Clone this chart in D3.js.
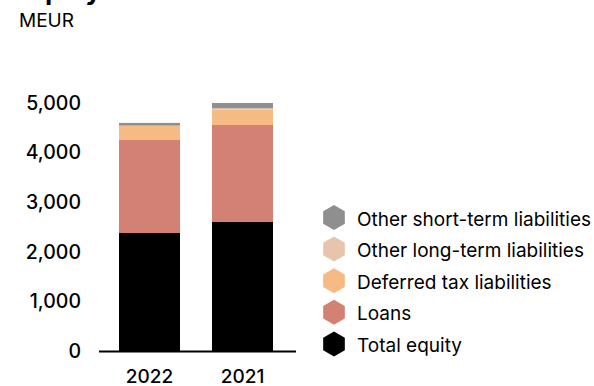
<!DOCTYPE html>
<html>
<head>
<meta charset="utf-8">
<script src="https://cdn.jsdelivr.net/npm/d3@7/dist/d3.min.js"></script>
<style>
  html, body { margin: 0; padding: 0; background: #fff; }
  svg { display: block; font-family: Inter, "Noto Sans", sans-serif; }
</style>
</head>
<body>
<svg id="chart" width="594" height="386"></svg>
<script>
// Equity and liabilities, MEUR
const years = ["2022", "2021"];
const seriesNames = ["Total equity", "Loans", "Deferred tax liabilities", "Other long-term liabilities", "Other short-term liabilities"];
const seriesColors = ["#000000", "#d38175", "#f5bb82", "#e6c5ac", "#8f8f8f"];
const totalEquity = [2379, 2601];
const loans = [1875, 1956];
const deferredTax = [282, 308];
const otherLongTerm = [8, 28];
const otherShortTerm = [55, 107];
const yTicks = [0, 1000, 2000, 3000, 4000, 5000];

const seriesValues = [totalEquity, loans, deferredTax, otherLongTerm, otherShortTerm];
const rows = years.map((yr, i) => {
  const r = { year: yr };
  seriesNames.forEach((n, k) => { r[n] = seriesValues[k][i]; });
  return r;
});

const svg = d3.select("#chart");
const fontFamily = "Inter, 'Noto Sans', sans-serif";

const x = d3.scaleBand().domain(years).range([99, 293]).paddingInner(0.344).paddingOuter(0.215);
const y = d3.scaleLinear().domain([0, 5000]).range([351, 103]);

// title (runs off the top edge) and unit
svg.append("text").attr("x", 20).attr("y", 0)
  .attr("font-size", 26).attr("font-weight", 700).attr("fill", "#000")
  .text("Equity and liabilities");
svg.append("text").attr("x", 19).attr("y", 27)
  .attr("font-size", 19).attr("fill", "#000").text("MEUR");

// stacked bars
const stack = d3.stack().keys(seriesNames)(rows);
svg.append("g").selectAll("g").data(stack).join("g")
  .attr("fill", (d, i) => seriesColors[i])
  .selectAll("rect").data(d => d).join("rect")
  .attr("x", d => x(d.data.year))
  .attr("width", x.bandwidth())
  .attr("y", d => y(d[1]))
  .attr("height", d => y(d[0]) - y(d[1]));

// y axis labels only
const yAxis = d3.axisLeft(y).tickValues(yTicks).tickSize(0).tickPadding(0)
  .tickFormat(d3.format(","));
const gy = svg.append("g").attr("transform", "translate(81,0)").call(yAxis);
gy.select(".domain").remove();
gy.selectAll("text").attr("font-size", 19.5).attr("font-weight", 500).attr("fill", "#000")
  .attr("font-family", fontFamily);

// baseline
svg.append("line").attr("x1", 99).attr("x2", 296)
  .attr("y1", y(0) + 0.5).attr("y2", y(0) + 0.5)
  .attr("stroke", "#000").attr("stroke-width", 2);

// x axis labels
const xAxis = d3.axisBottom(x).tickSize(0).tickPadding(0);
const gx = svg.append("g").attr("transform", "translate(0,369)").call(xAxis);
gx.select(".domain").remove();
gx.selectAll("text").attr("font-size", 19).attr("font-weight", 500).attr("fill", "#000")
  .attr("font-family", fontFamily);

// legend with hexagon markers, top entry is the top of the stack
const hex = r => d3.range(6).map(k => {
  const a = Math.PI / 3 * k - Math.PI / 2;
  return [r * Math.cos(a), r * Math.sin(a)];
});
const legendOrder = seriesNames.map((n, i) => ({ name: n, color: seriesColors[i] })).reverse();
const lg = svg.append("g").selectAll("g").data(legendOrder).join("g")
  .attr("transform", (d, i) => `translate(334,${217.5 + i * 31.6})`);
lg.append("path").attr("d", d => "M" + hex(12.5).join("L") + "Z").attr("fill", d => d.color);
lg.append("text").attr("x", 23).attr("y", 1.5).attr("dy", "0.35em")
  .attr("font-size", 19).attr("fill", "#000").text(d => d.name);
</script>
</body>
</html>
